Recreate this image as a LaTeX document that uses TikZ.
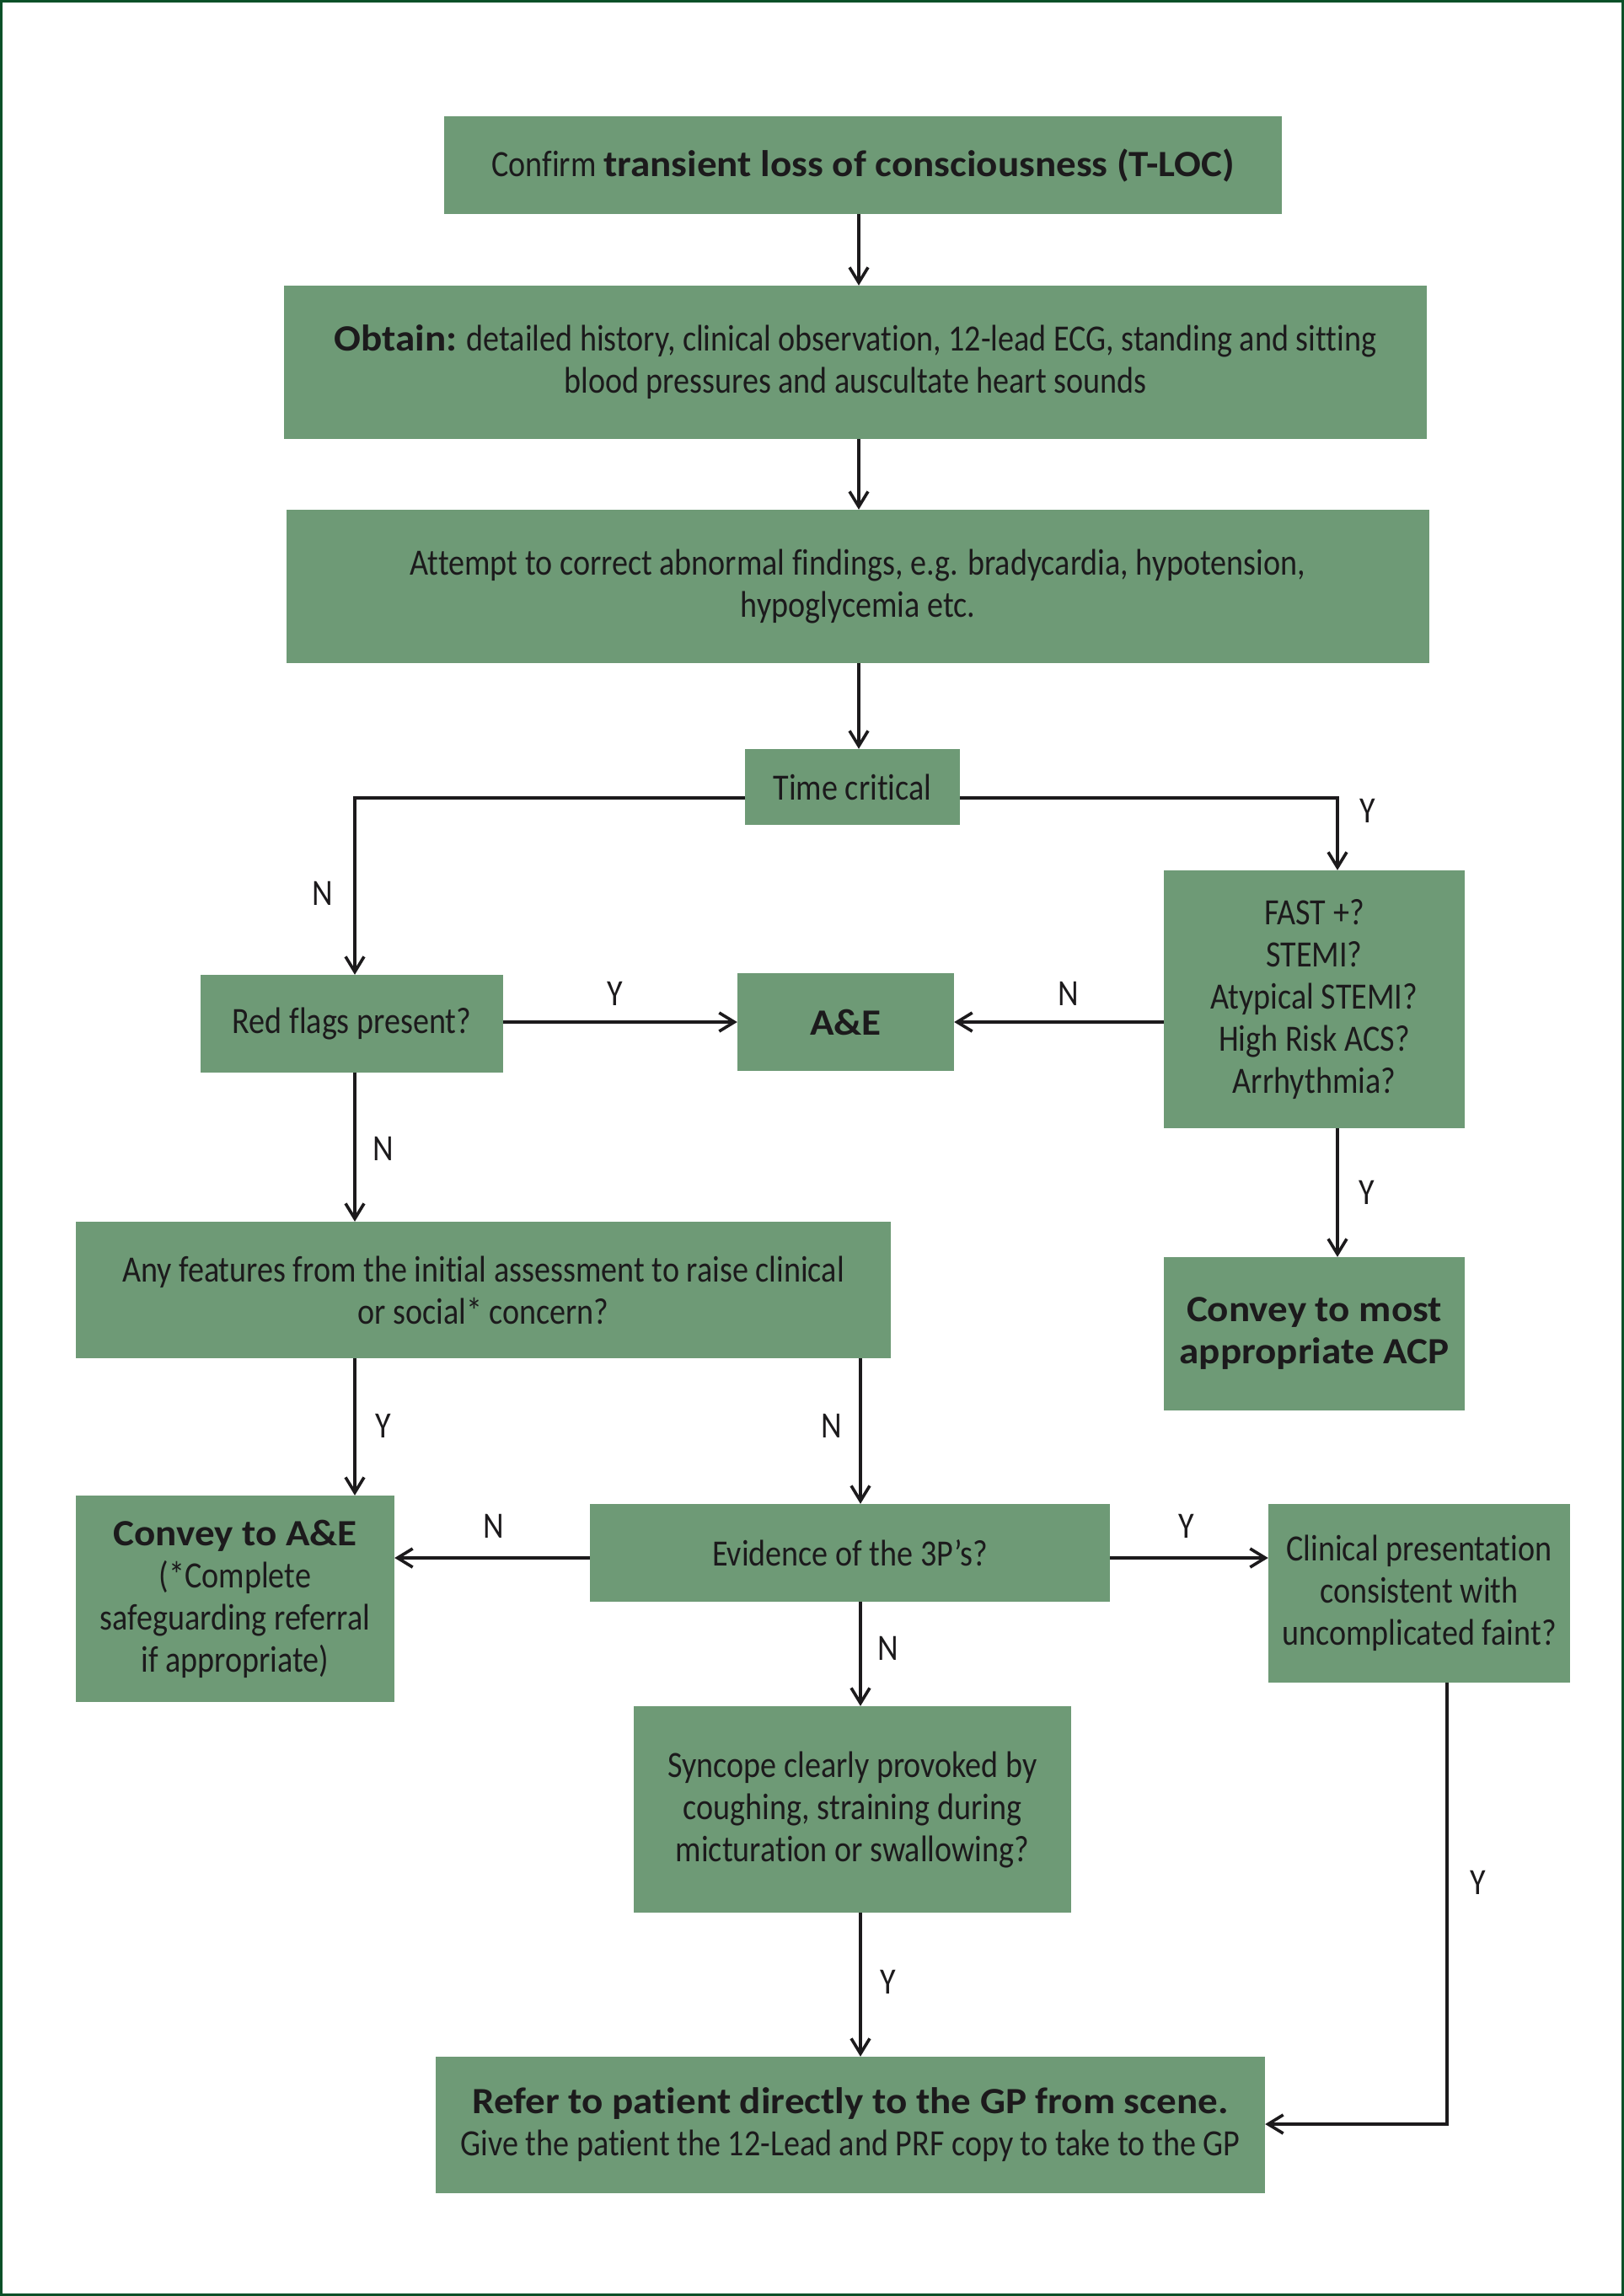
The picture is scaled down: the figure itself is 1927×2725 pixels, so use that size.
\documentclass[tikz,border=0pt]{standalone}
\usepackage{fontspec}
\setmainfont{Carlito}[Ligatures=NoCommon]
\newfontfamily\rfont{Carlito}[FakeStretch=0.866,Ligatures=NoCommon]
\newfontfamily\bfam{Carlito}[FakeStretch=1.07,Ligatures=NoCommon]
\newcommand\B[1]{{\bfam\bfseries #1}}
\usetikzlibrary{arrows.meta}
\definecolor{boxgreen}{RGB}{110,154,118}
\definecolor{framegreen}{RGB}{10,80,40}
\definecolor{ink}{RGB}{28,26,28}
\begin{document}
\begin{tikzpicture}[x=1pt,y=-1pt,
  box/.style={fill=boxgreen, draw=none, inner sep=0pt, align=center, text=ink,
              font=\rfont\fontsize{44}{50}\selectfont},
  lbl/.style={text=ink, inner sep=0pt, font=\rfont\fontsize{44}{50}\selectfont},
  arr/.style={draw=ink, line width=3.6pt,
              -{Straight Barb[length=18pt,width=22pt]}}]
\useasboundingbox (0,0) rectangle (1927,2725);
\draw[framegreen, line width=3pt] (1.5,1.5) rectangle (1925.5,2723.5);

% boxes
\node[box, minimum width=994, minimum height=116] (b1) at (1024,196)
  {Confirm \B{transient loss of consciousness (T-LOC)}};
\node[box, minimum width=1356, minimum height=182] (b2) at (1015,430)
  {\B{Obtain:} detailed history, clinical observation, 12-lead ECG, standing and sitting\\blood pressures and auscultate heart sounds};
\node[box, minimum width=1356, minimum height=182] (b3) at (1018,696)
  {Attempt to correct abnormal findings, e.g. bradycardia, hypotension,\\hypoglycemia etc.};
\node[box, minimum width=255, minimum height=90] (tc) at (1011.5,934)
  {Time critical};
\node[box, minimum width=359, minimum height=116] (rf) at (417.5,1215)
  {Red flags present?};
\node[box, minimum width=257, minimum height=116] (ae) at (1003.5,1213)
  {\B{A\&E}};
\node[box, minimum width=357, minimum height=306] (fast) at (1559.5,1186)
  {FAST +?\\STEMI?\\Atypical STEMI?\\High Risk ACS?\\Arrhythmia?};
\node[box, minimum width=967, minimum height=162] (any) at (573.5,1531)
  {Any features from the initial assessment to raise clinical\\or social* concern?};
\node[box, minimum width=357, minimum height=182] (acp) at (1559.5,1583)
  {\B{Convey to most}\\\B{appropriate ACP}};
\node[box, minimum width=378, minimum height=245] (cae) at (279,1897.5)
  {\B{Convey to A\&E}\\(*Complete\\safeguarding referral\\if appropriate)};
\node[box, minimum width=617, minimum height=116] (ev) at (1008.5,1843)
  {Evidence of the 3P’s?};
\node[box, minimum width=358, minimum height=212] (cl) at (1684,1891)
  {Clinical presentation\\consistent with\\uncomplicated faint?};
\node[box, minimum width=519, minimum height=245] (sy) at (1011.5,2147.5)
  {Syncope clearly provoked by\\coughing, straining during\\micturation or swallowing?};
\node[box, minimum width=984, minimum height=162] (ref) at (1009,2522)
  {\B{Refer to patient directly to the GP from scene.}\\Give the patient the 12-Lead and PRF copy to take to the GP};

% helper coordinates for connector lanes
\coordinate (sp) at (1019,0);
\coordinate (hl) at (0,947);
\coordinate (lx) at (421,0);
\coordinate (fx) at (1587,0);
\coordinate (ax) at (0,1213);
\coordinate (mx) at (1021,0);
\coordinate (ex) at (0,1849);
\coordinate (cx) at (1717,0);
\coordinate (rx) at (0,2521);

% connectors
\draw[arr] (b1.south -| sp) -- (b2.north -| sp);
\draw[arr] (b2.south -| sp) -- (b3.north -| sp);
\draw[arr] (b3.south -| sp) -- (tc.north -| sp);
\draw[arr] (tc.west |- hl) -| (rf.north -| lx);
\draw[arr] (tc.east |- hl) -| (fast.north -| fx);
\draw[arr] (rf.east |- ax) -- (ae.west |- ax);
\draw[arr] (fast.west |- ax) -- (ae.east |- ax);
\draw[arr] (fast.south -| fx) -- (acp.north -| fx);
\draw[arr] (rf.south -| lx) -- (any.north -| lx);
\draw[arr] (any.south -| lx) -- (cae.north -| lx);
\draw[arr] (any.south -| mx) -- (ev.north -| mx);
\draw[arr] (ev.west |- ex) -- (cae.east |- ex);
\draw[arr] (ev.east |- ex) -- (cl.west |- ex);
\draw[arr] (ev.south -| mx) -- (sy.north -| mx);
\draw[arr] (sy.south -| mx) -- (ref.north -| mx);
\draw[arr] (cl.south -| cx) |- (ref.east |- rx);

% labels
\node[lbl] (l1) at (1623,962) {Y};
\node[lbl] (l2) at (383,1060) {N};
\node[lbl] (l3) at (730,1179) {Y};
\node[lbl] (l4) at (1268,1179) {N};
\node[lbl] (l5) at (1622,1415) {Y};
\node[lbl] (l6) at (455,1363) {N};
\node[lbl] (l7) at (455,1692) {Y};
\node[lbl] (l8) at (987,1692) {N};
\node[lbl] (l9) at (586,1811) {N};
\node[lbl] (l10) at (1408,1811) {Y};
\node[lbl] (l11) at (1054,1956) {N};
\node[lbl] (l12) at (1054,2352) {Y};
\node[lbl] (l13) at (1754,2234) {Y};
\end{tikzpicture}
\end{document}
